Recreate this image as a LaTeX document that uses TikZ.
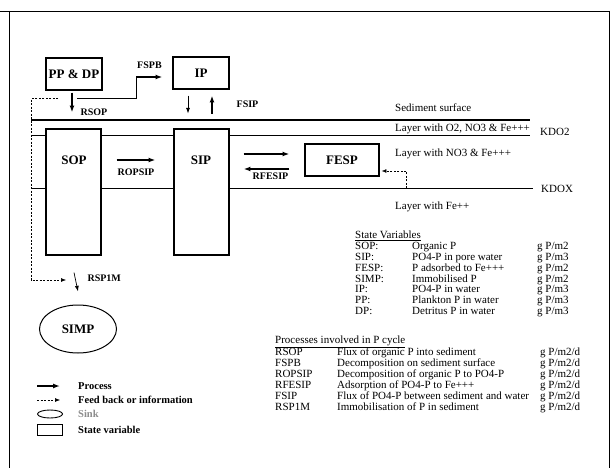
\documentclass[tikz,border=0pt]{standalone}
\usepackage{fontspec}
\setmainfont{Liberation Serif}
\usetikzlibrary{arrows.meta,shapes.geometric}
\tikzset{
  statevar/.style={draw, line width=1.1pt, fill=white, font=\bfseries\fontsize{13}{14}\selectfont, inner sep=0pt},
  sink/.style={draw, ellipse, line width=1pt, fill=white, font=\bfseries\fontsize{13}{14}\selectfont, inner sep=0pt},
  flow/.style={-{Latex[length=2.4mm,width=1.7mm]}, line width=1.3pt},
  thin flow/.style={-{Latex[length=2mm,width=1.4mm]}, line width=0.7pt},
  feedback/.style={-{Latex[length=1.7mm,width=1.3mm]}, line width=0.5pt, dash pattern=on 2pt off 1.5pt},
  layer/.style={line width=0.6pt},
  surface/.style={line width=1.2pt},
  flux label/.style={font=\bfseries\fontsize{10}{11}\selectfont, inner sep=1pt},
  layer label/.style={font=\fontsize{11}{12}\selectfont, anchor=west, inner sep=0pt},
  table text/.style={font=\fontsize{11}{10.8}\selectfont, anchor=north west, inner sep=0pt},
  legend text/.style={font=\bfseries\fontsize{10.5}{12}\selectfont, anchor=west, inner sep=0pt}
}

\begin{document}
\begin{tikzpicture}[x=1pt,y=-1pt]
  \useasboundingbox (0,0) rectangle (615,468);
  \draw[line width=0.8pt] (0,11) -- (609,11);
  \draw[line width=0.8pt] (9,11) -- (9,468);
  \draw[line width=0.8pt] (609,11) -- (609,468);

  % sediment layers
  \draw[surface] (31,120) -- (530,120);
  \draw[layer] (31,135) -- (530,135);
  \draw[layer] (31,188) -- (533,188);
  \node[layer label] (surface) at (395,108) {Sediment surface};
  \node[layer label] (oxic) at (395,129) {Layer with O2, NO3 \& Fe+++};
  \node[layer label] (nitric) at (395,154) {Layer with NO3 \& Fe+++};
  \node[layer label] (ferrous) at (395,207) {Layer with Fe++};
  \node[layer label] (kdo2) at (540,132) {KDO2};
  \node[layer label] (kdox) at (541,189) {KDOX};

  \node[statevar, minimum width=56pt, minimum height=32pt] (ppdp) at (74,74) {PP \& DP};
  \node[statevar, minimum width=56pt, minimum height=32pt] (ip) at (201,73) {IP};
  \node[statevar, minimum width=55pt, minimum height=126pt] (sop) at (73.5,192) {};
  \node[statevar, minimum width=55pt, minimum height=126pt] (sip) at (201.5,192) {};
  \node[font=\bfseries\fontsize{13}{14}\selectfont] at (74,160) {SOP};
  \node[font=\bfseries\fontsize{13}{14}\selectfont] at (201,160) {SIP};
  \node[statevar, minimum width=74pt, minimum height=32pt] (fesp) at (342,160) {FESP};
  \node[sink, minimum width=77pt, minimum height=48pt] (simp) at (78,329) {SIMP};

  \draw[flow] ([xshift=-2pt,yshift=-2pt]ppdp.south) -- ([xshift=-1.5pt,yshift=16pt]sop.north)
    node[flux label, right=7pt] {RSOP};
  \draw[flow] ([xshift=3pt,yshift=-8pt]ppdp.south) -| ([xshift=-36pt,yshift=-4pt]ip.west)
    -- node[flux label, above=7pt] {FSPB} ([xshift=-10pt,yshift=-4pt]ip.west);
  \draw[thin flow] ([xshift=-13pt,yshift=-6pt]ip.south) -- ([xshift=-13pt,yshift=-24pt]ip.south);
  \draw[flow] ([xshift=11pt,yshift=-24pt]ip.south) --
    node[flux label, right=23pt] {FSIP} ([xshift=11pt,yshift=-6pt]ip.south);
  \draw[flow] ([xshift=15pt,yshift=32pt]sop.east) --
    node[flux label, below=7pt] {ROPSIP} ([xshift=-18pt,yshift=32pt]sip.west);
  \draw[flow] ([xshift=14pt,yshift=38pt]sip.east) -- ([xshift=-15pt,yshift=6pt]fesp.west);
  \draw[flow] ([xshift=-15pt,yshift=-9pt]fesp.west) --
    node[flux label, below=2pt, xshift=4pt] {RFESIP} ([xshift=14pt,yshift=23pt]sip.east);
  \draw[feedback] ([xshift=27pt,yshift=-28pt]fesp.east) |- ([xshift=2pt,yshift=-11pt]fesp.east);
  \draw[thin flow] ([xshift=0.5pt,yshift=-17pt]sop.south) --
    node[flux label, right=11pt, pos=0.3] {RSP1M} ([yshift=13pt]simp.north);
  \coordinate (fbcorner) at (31,280);
  \draw[feedback] ([xshift=-16pt,yshift=-8pt]ppdp.south) -| (fbcorner) -- ++(35,0);

  % tables
  \node[table text] (statevars) at (355,231) {%
    \begin{tabular}{@{}p{57pt}@{}p{125pt}@{}l@{}}
      \multicolumn{3}{@{}l@{}}{\underline{State Variables}}\\
      SOP: & Organic P & g P/m2\\
      SIP: & PO4-P in pore water & g P/m3\\
      FESP: & P adsorbed to Fe+++ & g P/m2\\
      SIMP: & Immobilised P & g P/m2\\
      IP: & PO4-P in water & g P/m3\\
      PP: & Plankton P in water & g P/m3\\
      DP: & Detritus P in water & g P/m3
    \end{tabular}};
  \node[table text] (processes) at (275,336) {%
    \begin{tabular}{@{}p{62pt}@{}p{203pt}@{}l@{}}
      \multicolumn{3}{@{}l@{}}{\underline{Processes involved in P cycle}}\\
      RSOP & Flux of organic P into sediment & g P/m2/d\\
      FSPB & Decomposition on sediment surface & g P/m2/d\\
      ROPSIP & Decomposition of organic P to PO4-P & g P/m2/d\\
      RFESIP & Adsorption of PO4-P to Fe+++ & g P/m2/d\\
      FSIP & Flux of PO4-P between sediment and water & g P/m2/d\\
      RSP1M & Immobilisation of P in sediment & g P/m2/d
    \end{tabular}};

  % legend
  \node[legend text] (lgprocess) at (78,386) {Process};
  \node[legend text] (lgfeed) at (78,400) {Feed back or information};
  \node[legend text, text=black!45] (lgsink) at (78,414) {Sink};
  \node[legend text] (lgstate) at (78,430) {State variable};
  \draw[flow] ([xshift=-41pt]lgprocess.west) -- ([xshift=-18pt]lgprocess.west);
  \draw[feedback] ([xshift=-41pt]lgfeed.west) -- ([xshift=-18pt]lgfeed.west);
  \node[draw, ellipse, line width=0.9pt, minimum width=25pt, minimum height=8pt, inner sep=0pt,
    anchor=east] (sinkkey) at ([xshift=-15pt]lgsink.west) {};
  \node[draw, line width=0.9pt, minimum width=25pt, minimum height=11pt, inner sep=0pt,
    anchor=east] (statekey) at ([xshift=-15pt]lgstate.west) {};
\end{tikzpicture}
\end{document}
